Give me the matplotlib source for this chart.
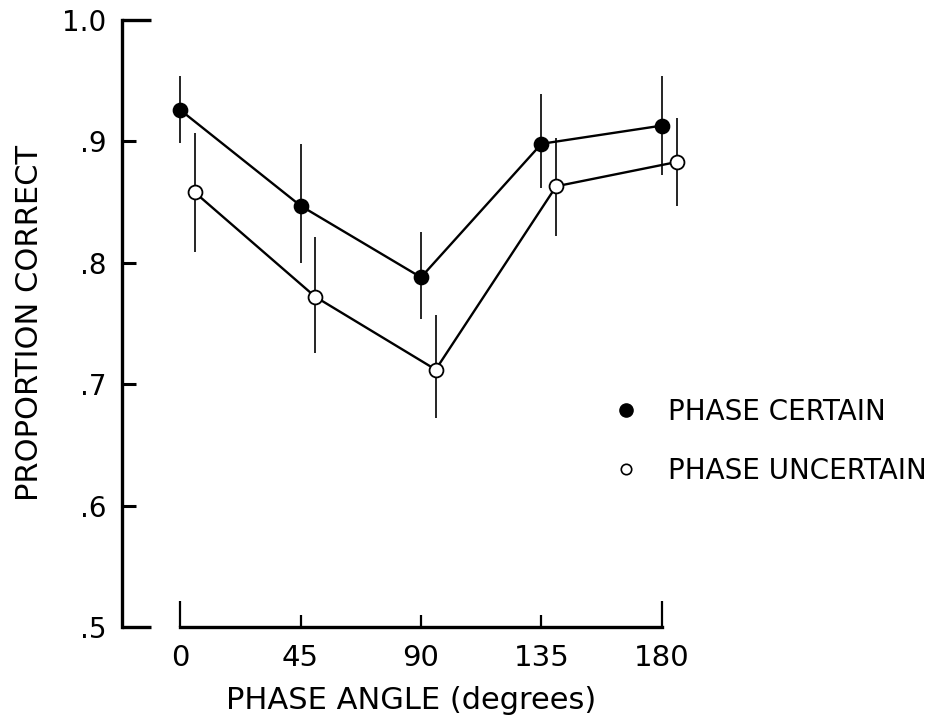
import matplotlib
matplotlib.use("Agg")
import matplotlib.pyplot as plt
from matplotlib.lines import Line2D
import numpy as np

# phase angle in degrees, open symbols are drawn a little to the right
angles = np.array([0, 45, 90, 135, 180])
offset_uncertain = 5.5

certain = [0.926, 0.847, 0.788, 0.898, 0.913]
certain_hi = [0.954, 0.898, 0.825, 0.939, 0.954]
certain_lo = [0.899, 0.800, 0.754, 0.862, 0.872]

uncertain = [0.858, 0.772, 0.712, 0.863, 0.883]
uncertain_hi = [0.907, 0.821, 0.757, 0.903, 0.919]
uncertain_lo = [0.809, 0.726, 0.672, 0.822, 0.847]

ytick_major = [0.5, 1.0]
ytick_minor = [0.6, 0.7, 0.8, 0.9]
ytick_major_labels = [".5", "1.0"]
ytick_minor_labels = [".6", ".7", ".8", ".9"]
xtick_major = [0, 180]
xtick_minor = [45, 90, 135]

plt.rcParams['font.family'] = ['DejaVu Sans']

fig = plt.figure(figsize=(9.36, 7.21), dpi=100)
ax = fig.add_axes([0.1303, 0.1304, 0.6175, 0.8419])
ax.set_xlim(-21.7, 194.2)
ax.set_ylim(0.5, 1.0)


def draw_series(x, y, lo, hi, face):
    y = np.array(y)
    err = [y - np.array(lo), np.array(hi) - y]
    ax.errorbar(x, y, yerr=err, fmt="none", ecolor="black", elinewidth=1.2, capsize=0, zorder=2)
    ax.plot(x, y, color="black", lw=1.7, zorder=3)
    ax.plot(x, y, "o", ms=10, mfc=face, mec="black", mew=1.3, ls="none", zorder=4, clip_on=False)


draw_series(angles, certain, certain_lo, certain_hi, "black")
draw_series(angles + offset_uncertain, uncertain, uncertain_lo, uncertain_hi, "white")

# axes drawn as separate pieces like the original figure
for side in ["top", "right"]:
    ax.spines[side].set_visible(False)
ax.spines["left"].set_bounds(0.5, 1.0)
ax.spines["left"].set_linewidth(2.4)
ax.spines["bottom"].set_bounds(0, 180)
ax.spines["bottom"].set_linewidth(2.4)

ax.set_yticks(ytick_major)
ax.set_yticklabels(ytick_major_labels)
ax.set_yticks(ytick_minor, minor=True)
ax.set_yticklabels(ytick_minor_labels, minor=True)
ax.set_xticks(xtick_major)
ax.set_xticklabels([str(v) for v in xtick_major])
ax.set_xticks(xtick_minor, minor=True)
ax.set_xticklabels([str(v) for v in xtick_minor], minor=True)

ax.tick_params(axis="y", which="major", direction="in", length=21, width=2.4, pad=11, labelsize=20)
ax.tick_params(axis="y", which="minor", direction="in", length=10, width=2.2, pad=11, labelsize=20)
ax.tick_params(axis="x", which="major", direction="in", length=19, width=1.6, pad=12, labelsize=21)
ax.tick_params(axis="x", which="minor", direction="in", length=9, width=1.6, pad=12, labelsize=21)

ax.set_ylabel("PROPORTION CORRECT", fontsize=22)
ax.yaxis.set_label_coords(-0.135, 0.5)
ax.set_xlabel("PHASE ANGLE (degrees)", fontsize=22)
ax.xaxis.set_label_coords(0.5, -0.098)

handles = [
    Line2D([], [], ls="none", marker="o", ms=9.5, mfc="black", mec="black"),
    Line2D([], [], ls="none", marker="o", ms=7.5, mfc="white", mec="black", mew=1.2),
]
fig.legend(handles, ["PHASE CERTAIN", "PHASE UNCERTAIN"], loc="upper left",
           bbox_to_anchor=(0.660, 0.448), bbox_transform=fig.transFigure,
           frameon=False, fontsize=20, handlelength=0.6, handletextpad=1.2,
           labelspacing=1.1, borderpad=0, borderaxespad=0)

fig.savefig("out.png", dpi=100)
